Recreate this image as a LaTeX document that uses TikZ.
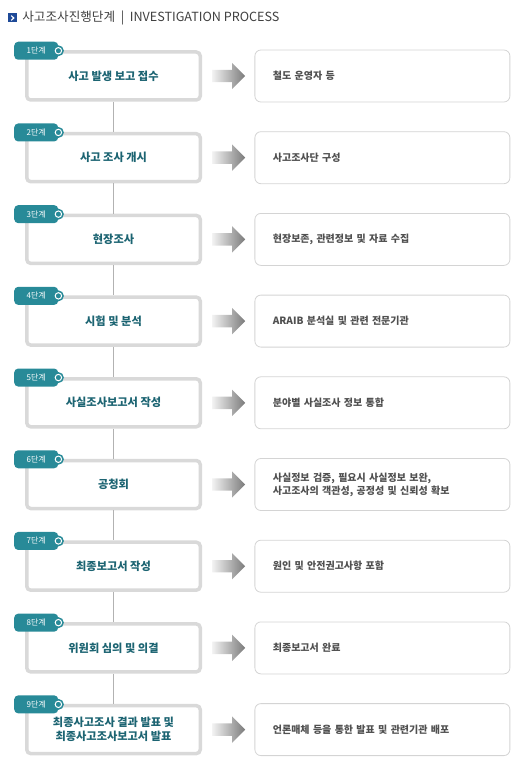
\documentclass[tikz,border=0pt]{standalone}
\usepackage{fontspec}
\setmainfont{Noto Sans CJK KR}
\usetikzlibrary{shapes.arrows, positioning}

\definecolor{stepteal}{RGB}{40,138,152}
\definecolor{nameteal}{RGB}{28,100,114}
\definecolor{headblue}{RGB}{30,74,152}
\definecolor{notegray}{RGB}{80,80,80}

\begin{document}
\begin{tikzpicture}[
    node distance = 30.2pt,
    stage/.style={
        draw=black!15, line width=3.5pt, rounded corners=4pt, fill=white,
        minimum width=173.5pt, minimum height=48pt, align=center,
        text=nameteal, font=\bfseries\fontsize{11.2}{14}\selectfont
    },
    note/.style={
        draw=black!17, line width=.8pt, rounded corners=6pt, fill=white,
        minimum height=52pt, text width=219pt, inner xsep=18pt, align=left,
        text=notegray, font=\bfseries\fontsize{10}{13}\selectfont
    },
    badge/.style={
        fill=stepteal, rounded corners=4pt, anchor=west, xshift=-11pt, yshift=-.5pt,
        minimum width=44pt, minimum height=18pt, inner sep=0pt,
        text=white, font=\fontsize{8}{8}\selectfont,
        label={[ring]east:{}}
    },
    ring/.style={
        anchor=center, circle, fill=stepteal, draw=stepteal, double=white,
        line width=1.6pt, double distance=1pt, minimum size=6.4pt, inner sep=0pt
    },
    flow/.style={
        single arrow, left color=black!5, right color=black!52,
        single arrow head extend=7pt, single arrow head indent=0pt,
        minimum height=33pt, inner sep=6pt
    },
    link/.style={draw=black!30, line width=.8pt},
]
    \useasboundingbox (0pt,0pt) rectangle (530pt,-770pt);

    % title
    \node[fill=headblue, minimum size=9pt, inner sep=0pt,
        path picture={\draw[white, line width=1.1pt]
            ([xshift=-1.3pt,yshift=2.4pt]path picture bounding box.center)
            -- ++(2.6pt,-2.4pt) -- ++(-2.6pt,-2.4pt);}] (mark) at (12.5pt,-18pt) {};
    \node[right=5pt of mark, inner sep=0pt, text=black!75, font=\fontsize{12.6}{13}\selectfont] (title)
        {사고조사진행단계 \ | \ INVESTIGATION PROCESS};

    % steps
    \node[stage] (s1) at (113.5pt,-76pt) {사고 발생 보고 접수};
    \node[stage,below=of s1] (s2) {사고 조사 개시};
    \node[stage,below=of s2] (s3) {현장조사};
    \node[stage,below=of s3] (s4) {시험 및 분석};
    \node[stage,below=of s4] (s5) {사실조사보고서 작성};
    \node[stage,below=of s5] (s6) {공청회};
    \node[stage,below=of s6] (s7) {최종보고서 작성};
    \node[stage,below=of s7] (s8) {위원회 심의 및 의결};
    \node[stage,below=of s8] (s9) {최종사고조사 결과 발표 및\\최종사고조사보고서 발표};

    \draw[link] (s1) -- (s2);
    \draw[link] (s2) -- (s3);
    \draw[link] (s3) -- (s4);
    \draw[link] (s4) -- (s5);
    \draw[link] (s5) -- (s6);
    \draw[link] (s6) -- (s7);
    \draw[link] (s7) -- (s8);
    \draw[link] (s8) -- (s9);

    \node[badge] (b1) at (s1.north west) {1단계};
    \node[badge] (b2) at (s2.north west) {2단계};
    \node[badge] (b3) at (s3.north west) {3단계};
    \node[badge] (b4) at (s4.north west) {4단계};
    \node[badge] (b5) at (s5.north west) {5단계};
    \node[badge] (b6) at (s6.north west) {6단계};
    \node[badge] (b7) at (s7.north west) {7단계};
    \node[badge] (b8) at (s8.north west) {8단계};
    \node[badge] (b9) at (s9.north west) {9단계};

    % arrows and details
    \node[flow,right=10pt of s1] (a1) {};
    \node[flow,right=10pt of s2] (a2) {};
    \node[flow,right=10pt of s3] (a3) {};
    \node[flow,right=10pt of s4] (a4) {};
    \node[flow,right=10pt of s5] (a5) {};
    \node[flow,right=10pt of s6] (a6) {};
    \node[flow,right=10pt of s7] (a7) {};
    \node[flow,right=10pt of s8] (a8) {};
    \node[flow,right=10pt of s9] (a9) {};

    \node[note,right=9pt of a1] (d1) {철도 운영자 등};
    \node[note,right=9pt of a2] (d2) {사고조사단 구성};
    \node[note,right=9pt of a3] (d3) {현장보존, 관련정보 및 자료 수집};
    \node[note,right=9pt of a4] (d4) {ARAIB 분석실 및 관련 전문기관};
    \node[note,right=9pt of a5] (d5) {분야별 사실조사 정보 통합};
    \node[note,right=9pt of a6] (d6) {사실정보 검증, 필요시 사실정보 보완,\\사고조사의 객관성, 공정성 및 신뢰성 확보};
    \node[note,right=9pt of a7] (d7) {원인 및 안전권고사항 포함};
    \node[note,right=9pt of a8] (d8) {최종보고서 완료};
    \node[note,right=9pt of a9] (d9) {언론매체 등을 통한 발표 및 관련기관 배포};

\end{tikzpicture}
\end{document}
